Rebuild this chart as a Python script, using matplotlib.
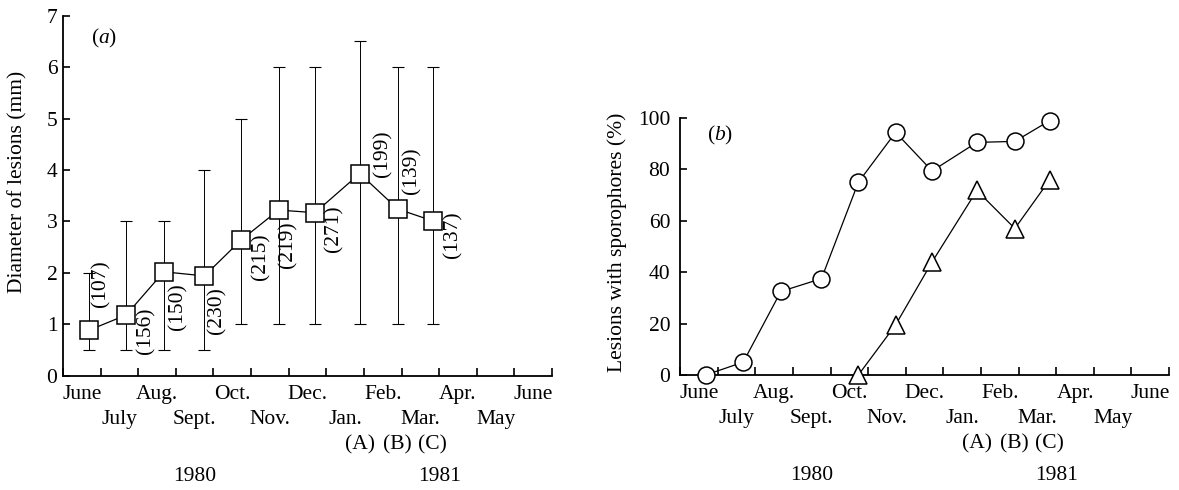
import numpy as np
import matplotlib
matplotlib.use('Agg')
import matplotlib.pyplot as plt

plt.rcParams['font.family'] = 'Liberation Serif'
plt.rcParams['mathtext.fontset'] = 'custom'
plt.rcParams['mathtext.rm'] = 'Liberation Serif'
plt.rcParams['mathtext.it'] = 'Liberation Serif:italic'
plt.rcParams['font.size'] = 15.5

# month axis runs from start of June 1980 (0) to end of June 1981 (13)
months = ['June', 'July', 'Aug.', 'Sept.', 'Oct.', 'Nov.', 'Dec.',
          'Jan.', 'Feb.', 'Mar.', 'Apr.', 'May', 'June']
sample_month = [0.68, 1.68, 2.68, 3.76, 4.74, 5.73, 6.70, 7.89, 8.90, 9.83]

# (a) lesion diameter, range and number of lesions
diameter = [0.88, 1.18, 2.02, 1.94, 2.64, 3.22, 3.17, 3.93, 3.24, 3.01]
diam_low = [0.5, 0.5, 0.5, 0.5, 1, 1, 1, 1, 1, 1]
diam_high = [2, 3, 3, 4, 5, 6, 6, 6.5, 6, 6]
n_lesions = [107, 156, 150, 230, 215, 219, 271, 199, 139, 137]

# (b) lesions with sporophores (%)
pct_circle = [0, 5, 32.5, 37.5, 75, 94.4, 79.4, 90.5, 90.9, 99]
pct_triangle = [0, 19.5, 44, 71.8, 57, 76]

sites = ['(A)', '(B)', '(C)']
years = ['1980', '1981']
year_mid = [3.5, 10]

# pixel offsets of the (n) labels from their squares
lab_off = [(12, 47), (20, -16), (14, -35), (12, -35), (20, -17),
           (9, -35), (19, -16), (23, 20), (14, 38), (20, -14)]


def below_axis(ax, x, s, dy):
    ax.annotate(s, xy=(x, 0), xycoords=('data', 'axes fraction'),
                xytext=(0, -dy), textcoords='offset pixels',
                ha='center', va='center')


def style_axes(ax, ymax, yticks, ypad):
    ax.spines[['top', 'right']].set_visible(False)
    ax.spines[['left', 'bottom']].set_linewidth(1.3)
    ax.set_xlim(0, 13)
    ax.set_ylim(0, ymax)
    ax.set_xticks(range(14))
    ax.set_xticklabels([])
    ax.tick_params(axis='x', direction='in', length=6, width=1.2)
    ax.set_yticks(yticks)
    ax.tick_params(axis='y', direction='in', length=5, width=1.2, pad=ypad)
    # month names on two staggered rows
    for i, m in enumerate(months):
        below_axis(ax, i + 0.5, m, 19 if i % 2 == 0 else 44)
    for x, s in zip(sample_month[-3:], sites):
        below_axis(ax, x, s, 69)
    for x, s in zip(year_mid, years):
        below_axis(ax, x, s, 101)


fig = plt.figure(figsize=(11.79, 4.90), dpi=100)
ax1 = fig.add_axes([0.0534, 0.2333, 0.4148, 0.7347])
ax2 = fig.add_axes([0.5768, 0.2347, 0.4148, 0.5245])

# panel (a)
d = np.array(diameter)
yerr = [d - np.array(diam_low), np.array(diam_high) - d]
ax1.errorbar(sample_month, diameter, yerr=yerr, fmt='none', ecolor='black',
             elinewidth=0.7, capsize=4.5, capthick=0.8, zorder=1)
ax1.plot(sample_month, diameter, '-', color='black', lw=0.9, marker='s', ms=13.5,
         mfc='white', mec='black', mew=1.1, clip_on=False, zorder=3)
for x, y, n, off in zip(sample_month, diameter, n_lesions, lab_off):
    ax1.annotate('(%d)' % n, xy=(x, y), xytext=off, textcoords='offset pixels',
                 rotation=90, ha='center', va='center')
style_axes(ax1, 7, range(8), 4)
ax1.set_ylabel('Diameter of lesions (mm)', va='center')
ax1.yaxis.set_label_coords(-0.093, 0.538)
ax1.text(0.084, 0.938, r'($\mathit{a}$)', transform=ax1.transAxes,
         ha='center', va='center')

# panel (b)
ax2.plot(sample_month, pct_circle, '-', color='black', lw=0.9, marker='o', ms=12.2,
         mfc='white', mec='black', mew=1.1, clip_on=False, zorder=3)
ax2.plot(sample_month[4:], pct_triangle, '-', color='black', lw=0.9, marker='^',
         ms=13.5, mfc='white', mec='black', mew=1.1, clip_on=False, zorder=3)
style_axes(ax2, 100, range(0, 101, 20), 7)
ax2.set_ylabel('Lesions with sporophores (%)', va='center')
ax2.yaxis.set_label_coords(-0.129, 0.515)
ax2.text(0.082, 0.932, r'($\mathit{b}$)', transform=ax2.transAxes,
         ha='center', va='center')

fig.savefig('out.png', dpi=100)
